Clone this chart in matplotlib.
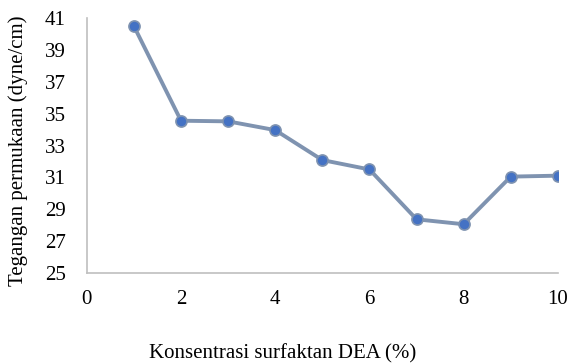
import numpy as np
import matplotlib.pyplot as plt

plt.rcParams['font.family'] = ['Liberation Serif', 'DejaVu Serif']

# konsentrasi surfaktan DEA (%) dan tegangan permukaan (dyne/cm)
konsentrasi = [1, 2, 3, 4, 5, 6, 7, 8, 9, 10]
tegangan = [40.5, 34.56, 34.52, 33.97, 32.09, 31.5, 28.37, 28.06, 31.05, 31.11]
x_ticks = [0, 2, 4, 6, 8, 10]
y_ticks = [25, 27, 29, 31, 33, 35, 37, 39, 41]

fig = plt.figure(figsize=(5.71, 3.63), dpi=100)
ax = fig.add_axes([0.152, 0.248, 0.825, 0.702])

ax.plot(konsentrasi, tegangan, '-', color='#7f93b0', linewidth=2.8, zorder=2)
ax.plot(konsentrasi, tegangan, 'o', color='#4472c4', markersize=8,
        markeredgecolor='#7f93b0', markeredgewidth=1.2, zorder=3)

ax.set_xlim(0, 10)
ax.set_ylim(25, 41)
ax.set_xticks(x_ticks)
ax.set_yticks(y_ticks)
ax.tick_params(length=0, labelsize=15)
ax.tick_params(axis='y', pad=15)
ax.tick_params(axis='x', pad=12)

for s in ['top', 'right']:
    ax.spines[s].set_visible(False)
for s in ['left', 'bottom']:
    ax.spines[s].set_color('#bfbfbf')
    ax.spines[s].set_linewidth(1.2)

ax.set_xlabel('Konsentrasi surfaktan DEA (%)', fontsize=15)
ax.set_ylabel('Tegangan permukaan (dyne/cm)', fontsize=15)
ax.xaxis.set_label_coords(0.415, -0.28)
ax.yaxis.set_label_coords(-0.125, 0.48)

plt.savefig('out.png', dpi=100)
